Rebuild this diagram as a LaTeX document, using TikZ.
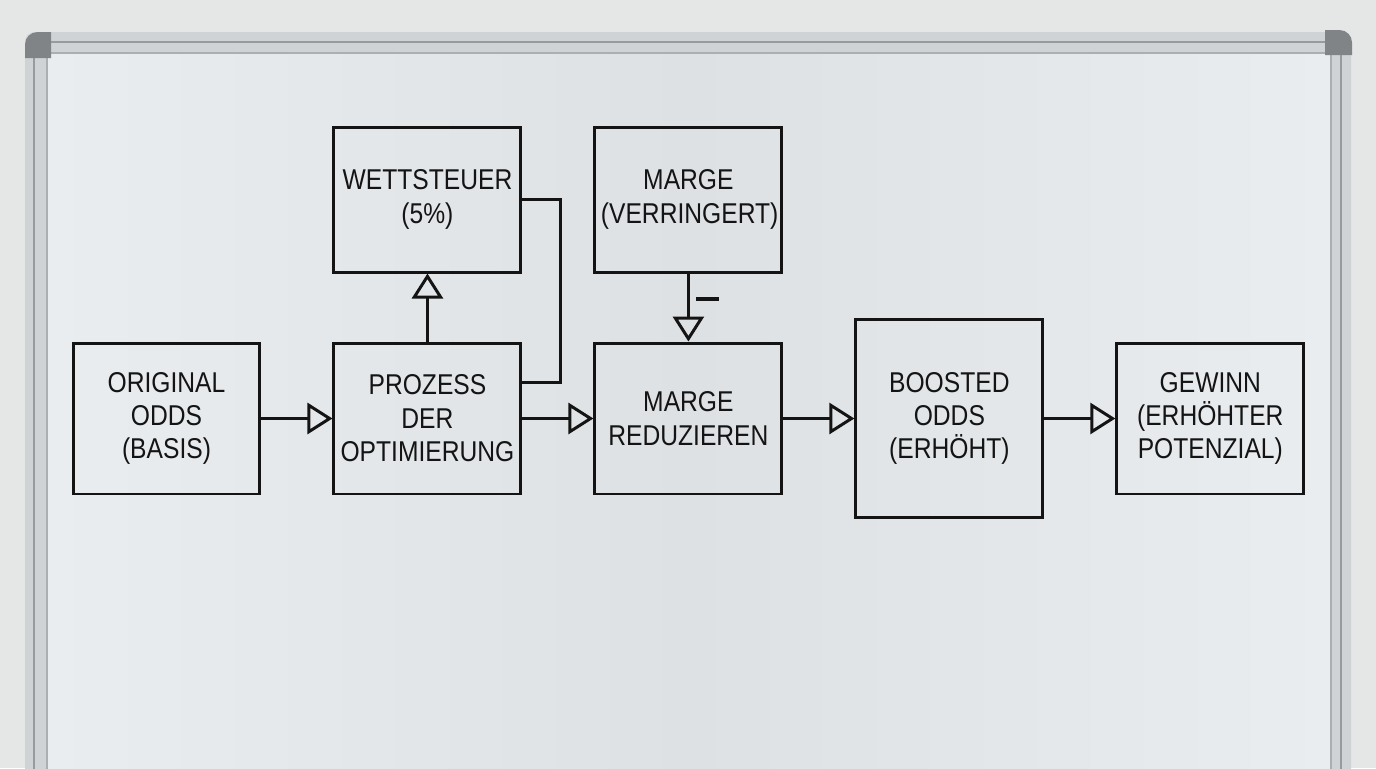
\documentclass[tikz,border=0pt]{standalone}
\usepackage{fontspec}
\newfontfamily\boardfont[FakeStretch=0.86]{Liberation Sans}
\usetikzlibrary{arrows.meta}
\definecolor{wall}{RGB}{229,231,231}
\definecolor{rail}{RGB}{208,211,213}
\definecolor{railedge}{RGB}{150,155,158}
\definecolor{railcap}{RGB}{128,132,135}
\definecolor{board}{RGB}{221,225,227}
\definecolor{boardlight}{RGB}{234,237,239}
\definecolor{ink}{RGB}{20,20,20}
\tikzstyle{block} = [rectangle, draw, text width=3.5cm, text centered,
    inner sep=0pt, minimum width=3.74cm, minimum height=3.02cm]

\begin{document}
\begin{tikzpicture}[x=0.02cm,y=-0.02cm,->,>={Triangle[open,length=0.5cm,width=0.62cm]},
                    line width=1.7pt,auto,node distance=5.22cm,ink,
                    font=\boardfont\fontsize{16.3}{19}\selectfont]

  % wall and whiteboard
  \begin{scope}[-,line width=0.6pt]
    \useasboundingbox (0,0) rectangle (1376,768);
    \clip (0,0) rectangle (1376,768);
    \fill[wall] (0,0) rectangle (1376,768);
    \fill[rail, rounded corners=0.2cm] (25,32) rectangle (1351,820);
    \draw[railedge] (34,42) rectangle (1341,820);
    \shade[left color=boardlight, right color=boardlight, middle color=board]
      (47,53) rectangle (1331,820);
    \draw[railedge!80] (47,53) rectangle (1331,820);
    \fill[railcap] (25,58) [rounded corners=0.25cm] -- (25,32) [sharp corners] -- (51,32) -- (51,58) -- cycle;
    \fill[railcap] (1352,55) [rounded corners=0.25cm] -- (1352,30) [sharp corners] -- (1325,30) -- (1325,55) -- cycle;
  \end{scope}

  \node[block] (1) at (166.5,418.5) {ORIGINAL\\ODDS\\(BASIS)};
  \node[block] (2) [right of=1] {PROZESS\\DER\\OPTIMIERUNG};
  \node[block, minimum height=2.9cm] (3) [above of=2, node distance=4.38cm] {WETTSTEUER\\(5\%)};
  \node[block] (5) [right of=2] {MARGE\\REDUZIEREN};
  \node[block, minimum height=2.9cm] (4) [above of=5, node distance=4.38cm] {MARGE\\(VERRINGERT)};
  \node[block, minimum height=3.98cm] (6) [right of=5] {BOOSTED\\ODDS\\(ERHÖHT)};
  \node[block] (7) [right of=6] {GEWINN\\(ERHÖHTER\\POTENZIAL)};

  \path (1) edge (2)
        (2) edge (5)
        (5) edge (6)
        (6) edge (7)
        (2) edge (3)
        (4) edge node[pos=0.37] {\rule{0.46cm}{0.08cm}} (5);

  \draw[-] (3.east) -- ++(38,0) |- ([yshift=0.73cm]2.east);
\end{tikzpicture}
\end{document}
